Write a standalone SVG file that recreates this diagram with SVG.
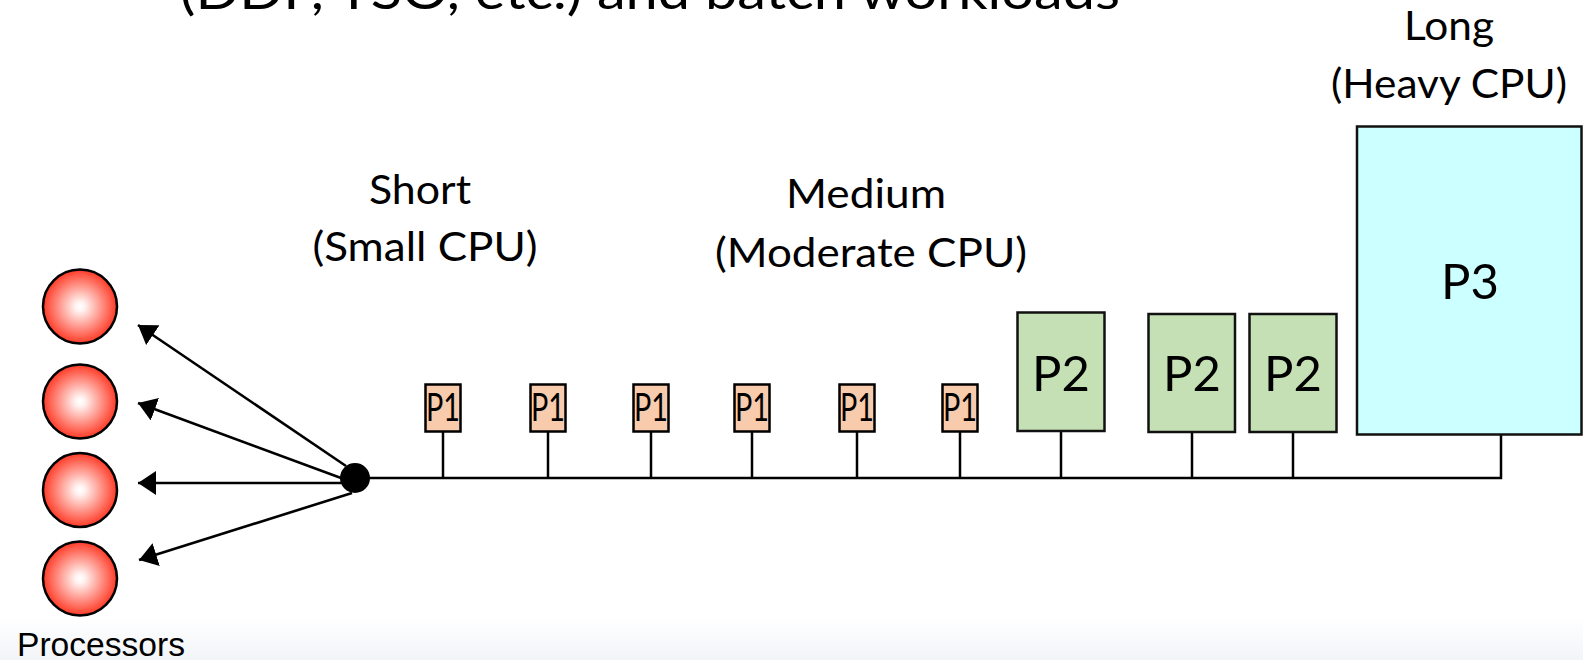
<svg xmlns="http://www.w3.org/2000/svg" width="1583" height="660" viewBox="0 0 1583 660">
  <style>
    .lbl { font-family: Lato, "Open Sans", "DejaVu Sans", sans-serif; fill: #000; text-anchor: middle; }
    .cat { font-size: 41px; }
    .p1 { fill: #f8cbad; stroke: #000; stroke-width: 2.5; }
    .p2 { fill: #c5e0b4; stroke: #111; stroke-width: 2.5; }
    .p3 { fill: #ccffff; stroke: #111; stroke-width: 2.5; }
    .cpu { fill: url(#ball); stroke: #000; stroke-width: 2.5; }
    .wire { stroke: #000; stroke-width: 2.5; fill: none; }
    .feed { stroke: #000; stroke-width: 2.6; fill: none; marker-end: url(#head); }
  </style>
  <defs>
    <radialGradient id="ball" cx="50%" cy="50%" r="50%">
      <stop offset="0" stop-color="#ffffff"/>
      <stop offset="0.12" stop-color="#fff4f2"/>
      <stop offset="1" stop-color="#ff3a26"/>
    </radialGradient>
    <linearGradient id="floor" x1="0" y1="0" x2="0" y2="1">
      <stop offset="0" stop-color="#ffffff"/>
      <stop offset="1" stop-color="#f2f4f8"/>
    </linearGradient>
    <marker id="head" markerUnits="userSpaceOnUse" markerWidth="20" markerHeight="24" refX="18" refY="12" orient="auto">
      <path d="M0,0 L18,12 L0,24 Z" fill="#000"/>
    </marker>
  </defs>

  <rect width="1583" height="660" fill="#ffffff"/>
  <rect x="0" y="618" width="1583" height="42" fill="url(#floor)"/>

  <!-- heading line, clipped by the top edge -->
  <text class="lbl" x="650" y="9" font-size="50" textLength="940" lengthAdjust="spacingAndGlyphs">(DDF, TSO, etc.) and batch workloads</text>

  <!-- workload category labels -->
  <g id="label-short">
    <text class="lbl cat" x="420" y="204" textLength="102" lengthAdjust="spacingAndGlyphs">Short</text>
    <text class="lbl cat" x="425" y="261" textLength="225" lengthAdjust="spacingAndGlyphs">(Small CPU)</text>
  </g>
  <g id="label-medium">
    <text class="lbl cat" x="866" y="208" textLength="160" lengthAdjust="spacingAndGlyphs">Medium</text>
    <text class="lbl cat" x="871" y="267" textLength="312" lengthAdjust="spacingAndGlyphs">(Moderate CPU)</text>
  </g>
  <g id="label-long">
    <text class="lbl cat" x="1449" y="40" textLength="90" lengthAdjust="spacingAndGlyphs">Long</text>
    <text class="lbl cat" x="1449" y="98" textLength="236" lengthAdjust="spacingAndGlyphs">(Heavy CPU)</text>
  </g>

  <!-- processors -->
  <g id="cpu-1"><circle class="cpu" cx="80" cy="306.5" r="37"/></g>
  <g id="cpu-2"><circle class="cpu" cx="80" cy="401.5" r="37"/></g>
  <g id="cpu-3"><circle class="cpu" cx="80" cy="490" r="37"/></g>
  <g id="cpu-4"><circle class="cpu" cx="80" cy="578.5" r="37"/></g>
  <text id="cpu-caption" x="17" y="656" font-family="'Liberation Sans', Arial, sans-serif" font-size="34" textLength="168" lengthAdjust="spacingAndGlyphs">Processors</text>

  <!-- connectors: dispatch arrows, queue bus and job stems -->
  <g id="connectors">
    <line class="feed" x1="346" y1="466" x2="138" y2="325"/>
    <line class="feed" x1="341" y1="478" x2="138" y2="403"/>
    <line class="feed" x1="341" y1="483" x2="138" y2="483"/>
    <line class="feed" x1="352" y1="493" x2="139" y2="560"/>
    <polyline class="wire" points="355,478 1501,478 1501,434"/>
    <line class="wire" x1="443" y1="432" x2="443" y2="478"/>
    <line class="wire" x1="548" y1="432" x2="548" y2="478"/>
    <line class="wire" x1="651" y1="432" x2="651" y2="478"/>
    <line class="wire" x1="752" y1="432" x2="752" y2="478"/>
    <line class="wire" x1="857" y1="432" x2="857" y2="478"/>
    <line class="wire" x1="960" y1="432" x2="960" y2="478"/>
    <line class="wire" x1="1061" y1="431" x2="1061" y2="478"/>
    <line class="wire" x1="1192" y1="432" x2="1192" y2="478"/>
    <line class="wire" x1="1293" y1="432" x2="1293" y2="478"/>
  </g>

  <!-- dispatcher hub -->
  <g id="hub"><circle cx="355" cy="478" r="15" fill="#000"/></g>

  <!-- short jobs -->
  <g id="p1-a"><rect class="p1" x="425.5" y="384.5" width="35" height="47"/><text class="lbl" x="443" y="420.5" font-size="38" textLength="34" lengthAdjust="spacingAndGlyphs">P1</text></g>
  <g id="p1-b"><rect class="p1" x="530.5" y="384.5" width="35" height="47"/><text class="lbl" x="548" y="420.5" font-size="38" textLength="34" lengthAdjust="spacingAndGlyphs">P1</text></g>
  <g id="p1-c"><rect class="p1" x="633.5" y="384.5" width="35" height="47"/><text class="lbl" x="651" y="420.5" font-size="38" textLength="34" lengthAdjust="spacingAndGlyphs">P1</text></g>
  <g id="p1-d"><rect class="p1" x="734.5" y="384.5" width="35" height="47"/><text class="lbl" x="752" y="420.5" font-size="38" textLength="34" lengthAdjust="spacingAndGlyphs">P1</text></g>
  <g id="p1-e"><rect class="p1" x="839.5" y="384.5" width="35" height="47"/><text class="lbl" x="857" y="420.5" font-size="38" textLength="34" lengthAdjust="spacingAndGlyphs">P1</text></g>
  <g id="p1-f"><rect class="p1" x="942.5" y="384.5" width="35" height="47"/><text class="lbl" x="960" y="420.5" font-size="38" textLength="34" lengthAdjust="spacingAndGlyphs">P1</text></g>

  <!-- medium jobs -->
  <g id="p2-a"><rect class="p2" x="1017.5" y="312.5" width="87" height="118.5"/><text class="lbl" x="1061" y="391" font-size="49">P2</text></g>
  <g id="p2-b"><rect class="p2" x="1148.5" y="314" width="86.5" height="118"/><text class="lbl" x="1192" y="391" font-size="49">P2</text></g>
  <g id="p2-c"><rect class="p2" x="1249.5" y="314" width="87" height="118"/><text class="lbl" x="1293" y="391" font-size="49">P2</text></g>

  <!-- long job -->
  <g id="p3"><rect class="p3" x="1357" y="126.5" width="224.5" height="308"/><text class="lbl" x="1470" y="299" font-size="49">P3</text></g>
</svg>
